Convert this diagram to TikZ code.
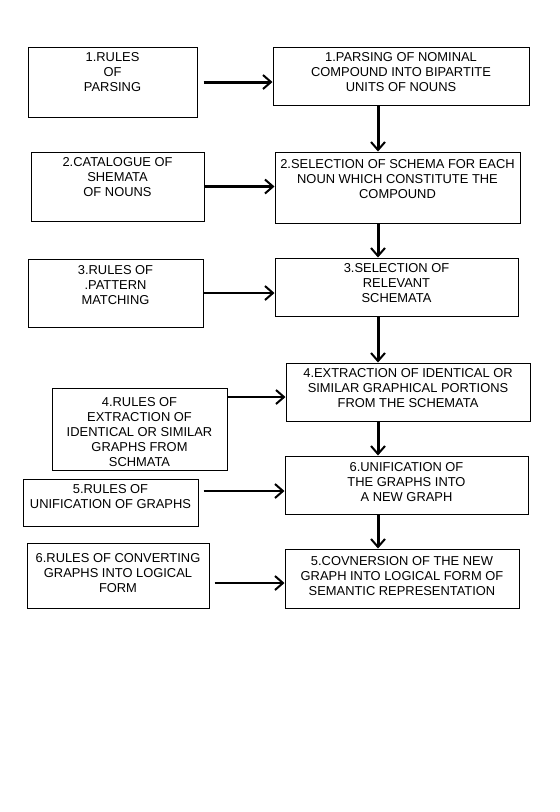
\documentclass[tikz,border=0pt]{standalone}
\usepackage{fontspec}
\setmainfont{Liberation Sans}
\usetikzlibrary{arrows.meta}
\newcommand\blabel[3]{\node[lbl] (#1t) at ([yshift=-#2pt]#1.north) {#3};}
\begin{document}
\begin{tikzpicture}[x=1pt,y=-1pt,
  box/.style={draw, line width=1pt, inner sep=0pt, rectangle},
  lbl/.style={anchor=north, inner sep=0pt, align=center, font=\fontsize{12.9}{15}\selectfont},
  thickarr/.style={line width=3pt, -{Straight Barb[length=8pt,width=14pt,line width=2pt]}},
  thinarr/.style={line width=2pt, -{Straight Barb[length=8pt,width=14pt,line width=2pt]}},
]
\useasboundingbox[fill=white] (0,0) rectangle (560,812);

% left column
\node[box, minimum width=169pt, minimum height=70pt] (l1) at (112.5,82) {};
\node[box, minimum width=173pt, minimum height=69pt] (l2) at (117.5,186.5) {};
\node[box, minimum width=175pt, minimum height=68pt] (l3) at (115.5,293) {};
\node[box, minimum width=175pt, minimum height=82pt] (l4) at (139.5,429) {};
\node[box, minimum width=175pt, minimum height=47pt] (l5) at (110.5,502.5) {};
\node[box, minimum width=182pt, minimum height=65pt] (l6) at (118,575.5) {};

% right column
\node[box, minimum width=256pt, minimum height=58pt] (r1) at (401,76) {};
\node[box, minimum width=245pt, minimum height=71pt] (r2) at (397.5,187.5) {};
\node[box, minimum width=243pt, minimum height=58pt] (r3) at (396.5,287) {};
\node[box, minimum width=244pt, minimum height=58pt] (r4) at (408,392) {};
\node[box, minimum width=243pt, minimum height=58pt] (r6) at (406.5,485) {};
\node[box, minimum width=234pt, minimum height=59pt] (r5) at (402,578.5) {};

% labels
\blabel{l1}{5.4}{1.RULES\\OF\\PARSING}
\blabel{r1}{5.4}{1.PARSING OF NOMINAL\\COMPOUND INTO BIPARTITE\\UNITS OF NOUNS}
\blabel{l2}{5.4}{2.CATALOGUE OF\\SHEMATA\\OF NOUNS}
\blabel{r2}{7.4}{2.SELECTION OF SCHEMA FOR EACH\\NOUN WHICH CONSTITUTE THE\\COMPOUND}
\blabel{l3}{6.4}{3.RULES OF\\.PATTERN\\MATCHING}
\blabel{r3}{5.4}{3.SELECTION OF\\RELEVANT\\SCHEMATA}
\blabel{l4}{9.4}{4.RULES OF\\EXTRACTION OF\\IDENTICAL OR SIMILAR\\GRAPHS FROM\\SCHMATA}
\blabel{r4}{5.4}{4.EXTRACTION OF IDENTICAL OR\\SIMILAR GRAPHICAL PORTIONS\\FROM THE SCHEMATA}
\blabel{r6}{6.4}{6.UNIFICATION OF\\THE GRAPHS INTO\\A NEW GRAPH}
\blabel{l5}{5.4}{5.RULES OF\\UNIFICATION OF GRAPHS}
\blabel{l6}{10.4}{6.RULES OF CONVERTING\\GRAPHS INTO LOGICAL\\FORM}
\blabel{r5}{7.4}{5.COVNERSION OF THE NEW\\GRAPH INTO LOGICAL FORM OF\\SEMANTIC REPRESENTATION}

% horizontal arrows
\draw[thickarr] ([xshift=6pt]l1.east) -- (r1.west |- l1.east);
\draw[thickarr] (l2.east) -- (r2.west |- l2.east);
\draw[thinarr] (l3.east) -- (r3.west |- l3.east);
\draw[thinarr] (l4.east |- 0,397) -- (r4.west |- 0,397);
\draw[thinarr] ([xshift=5pt]l5.east |- 0,491) -- (r6.west |- 0,491);
\draw[thinarr] ([xshift=5pt]l6.east |- 0,583) -- (r5.west |- 0,583);

% vertical arrows
\coordinate (vx) at (378,0);
\draw[thickarr] (r1.south -| vx) -- (r2.north -| vx);
\draw[thickarr] (r2.south -| vx) -- (r3.north -| vx);
\draw[thickarr] (r3.south -| vx) -- (r4.north -| vx);
\draw[thickarr] (r4.south -| vx) -- (r6.north -| vx);
\draw[thickarr] (r6.south -| vx) -- (r5.north -| vx);
\end{tikzpicture}
\end{document}
